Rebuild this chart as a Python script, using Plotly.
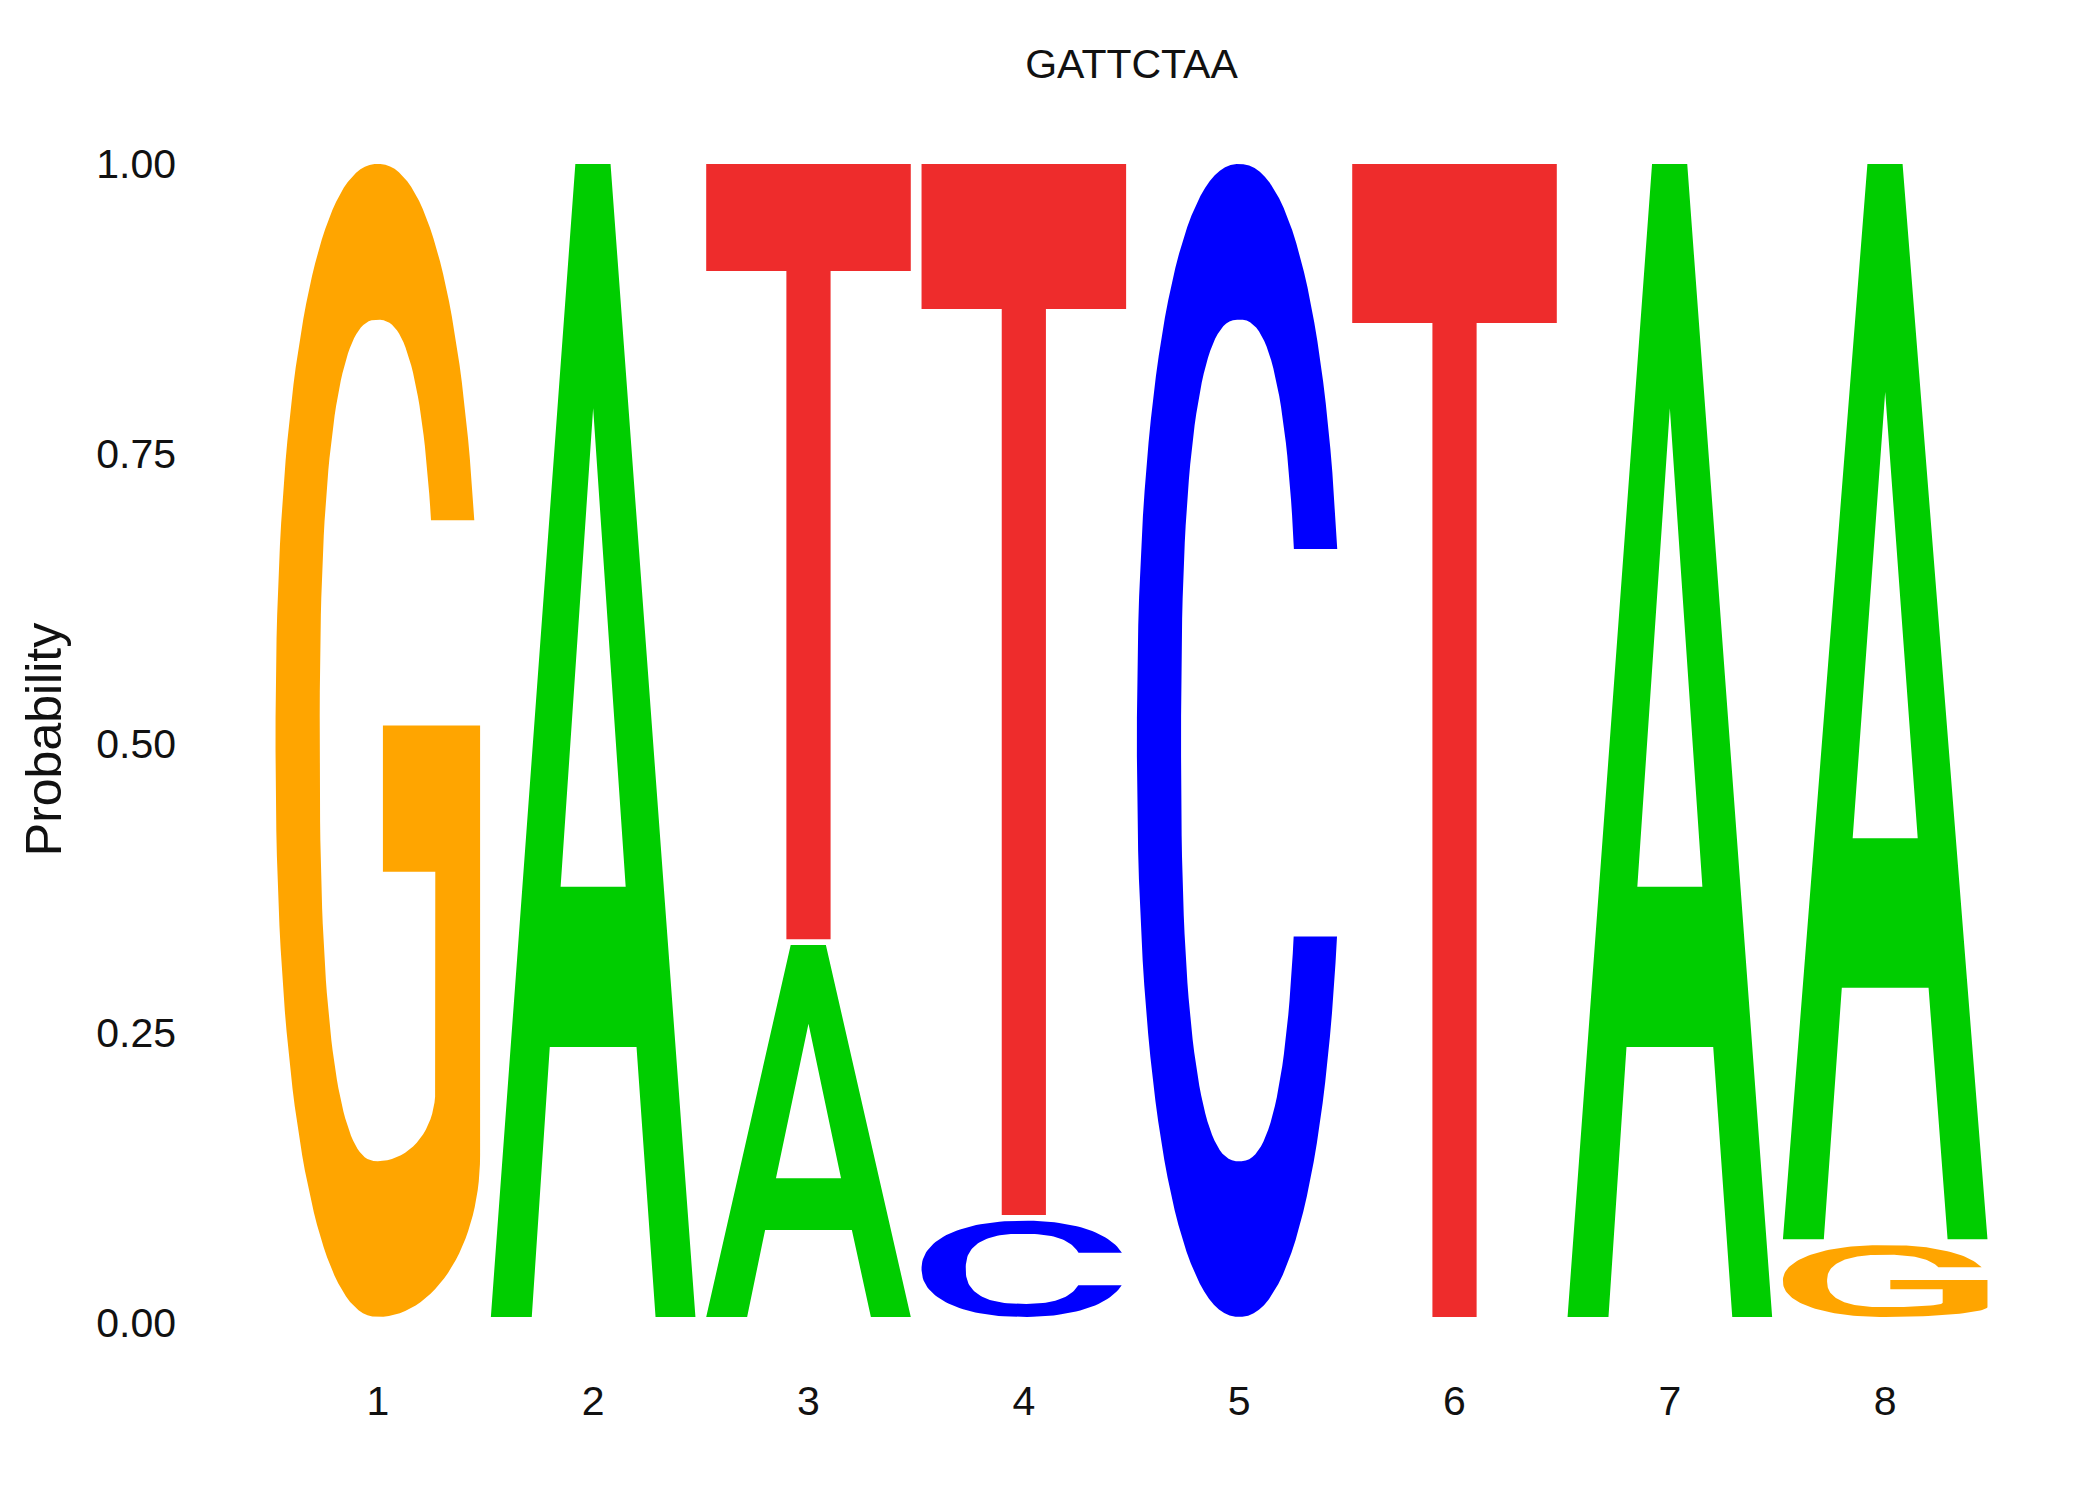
import numpy as np
import plotly.graph_objects as go

# 每個位置的鹼基機率 (sequence logo)
positions = [1, 2, 3, 4, 5, 6, 7, 8]
consensus = "GATTCTAA"
prob_A = [0.0, 1.0, 0.326, 0.0, 0.0, 0.0, 1.0, 0.933]
prob_C = [0.0, 0.0, 0.0, 0.088, 1.0, 0.0, 0.0, 0.0]
prob_G = [1.0, 0.0, 0.0, 0.0, 0.0, 0.0, 0.0, 0.067]
prob_T = [0.0, 0.0, 0.674, 0.912, 0.0, 1.0, 0.0, 0.0]
y_ticks = [0.0, 0.25, 0.5, 0.75, 1.0]

colors = {"A": "#00CD00", "C": "#0000FF", "G": "#FFA500", "T": "#EE2C2C"}
font_family = "Liberation Sans, Arial, sans-serif"

LETTER_W = 0.95
GAP = 0.005


# ---------- 字母輪廓 (單位方格內) ----------
def sup_pt(t, cx, cy, rx, ry, n):
    c, s = np.cos(t), np.sin(t)
    x = cx + rx * np.sign(c) * np.abs(c) ** (2 / n)
    y = cy + ry * np.sign(s) * np.abs(s) ** (2 / n)
    return x, y


def angle_at(yv, cy, ry, n):
    d = (yv - cy) / ry
    return np.arcsin(np.sign(d) * abs(d) ** (n / 2))


OUT = dict(cx=0.5, cy=0.5, rx=0.5, ry=0.5, n=2.2)
INN = dict(cx=0.5, cy=0.5, rx=0.284, ry=0.365, n=2.5)


def glyph_C():
    ta = angle_at(0.666, OUT["cy"], OUT["ry"], OUT["n"])
    tb = angle_at(0.33, OUT["cy"], OUT["ry"], OUT["n"])
    ia = angle_at(0.666, INN["cy"], INN["ry"], INN["n"])
    ib = angle_at(0.33, INN["cy"], INN["ry"], INN["n"])
    t_out = np.linspace(ta, 2 * np.pi + tb, 120)
    t_in = np.linspace(2 * np.pi + ib, ia, 120)
    xo, yo = sup_pt(t_out, **OUT)
    xi, yi = sup_pt(t_in, **INN)
    return np.concatenate([xo, xi, xo[:1]]), np.concatenate([yo, yi, yo[:1]])


def glyph_G():
    ta = angle_at(0.691, OUT["cy"], OUT["ry"], OUT["n"])
    ia = angle_at(0.691, INN["cy"], INN["ry"], INN["n"])
    xo, yo = sup_pt(np.linspace(ta, 1.5 * np.pi, 110), **OUT)
    phi = np.linspace(-np.pi / 2, 0, 30)
    xq, yq = 0.5 + 0.5 * np.cos(phi), 0.14 + 0.14 * np.sin(phi)
    bx = [1.0, 0.525, 0.525, 0.781, 0.781]
    by = [0.513, 0.513, 0.386, 0.386, 0.196]
    phi2 = np.linspace(0, -np.pi / 2, 20)
    xq2, yq2 = 0.5 + 0.281 * np.cos(phi2), 0.196 + 0.061 * np.sin(phi2)
    xi, yi = sup_pt(np.linspace(1.5 * np.pi, ia, 110), **INN)
    x = np.concatenate([xo, xq, bx, xq2, xi, xo[:1]])
    y = np.concatenate([yo, yq, by, yq2, yi, yo[:1]])
    return x, y


def glyph_A():
    x = [0.0, 0.2, 0.288, 0.5, 0.5, 0.341, 0.5, 0.659, 0.5, 0.5, 0.712, 0.805, 1.0, 0.585, 0.413, 0.0]
    y = [0.0, 0.0, 0.234, 0.234, 0.373, 0.373, 0.788, 0.373, 0.373, 0.234, 0.234, 0.0, 0.0, 1.0, 1.0, 0.0]
    return np.array(x), np.array(y)


def glyph_T():
    x = [0.0, 0.0, 0.392, 0.392, 0.608, 0.608, 1.0, 1.0, 0.0]
    y = [1.0, 0.862, 0.862, 0.0, 0.0, 0.862, 0.862, 1.0, 1.0]
    return np.array(x), np.array(y)


glyphs = {"A": glyph_A(), "C": glyph_C(), "G": glyph_G(), "T": glyph_T()}

# ---------- 堆疊字母 ----------
probs = {"A": prob_A, "C": prob_C, "G": prob_G, "T": prob_T}

fig = go.Figure()
for i, pos in enumerate(positions):
    stack = sorted([(probs[b][i], b) for b in probs if probs[b][i] > 0])
    y0 = 0.0
    for p, base in stack:
        gx, gy = glyphs[base]
        xs = pos - LETTER_W / 2 + LETTER_W * gx
        ys = y0 + GAP + (p - GAP) * gy
        fig.add_trace(go.Scatter(
            x=xs, y=ys, mode="lines", fill="toself",
            fillcolor=colors[base], line=dict(width=0, color=colors[base]),
            hoveron="fills", name=f"{base} @ {pos}: {p:.2f}",
            showlegend=False,
        ))
        y0 += p

fig.update_layout(
    width=2100, height=1500,
    paper_bgcolor="white", plot_bgcolor="white",
    margin=dict(l=176, r=29, t=98, b=135),
    font=dict(family=font_family, size=41, color="#111111"),
    title=dict(text=consensus, x=0.5, xref="paper", xanchor="center",
               y=1 - 56 / 1500, yref="container", yanchor="middle",
               font=dict(size=41, color="#111111")),
    xaxis=dict(range=[0.1, 8.9], tickvals=positions, ticktext=[str(p) for p in positions],
               showgrid=False, zeroline=False, showline=False, ticks=""),
    yaxis=dict(range=[-0.0434, 1.05], tickvals=y_ticks, ticktext=[f"{v:.2f}" for v in y_ticks],
               showgrid=False, zeroline=False, showline=False, ticks="",
               ticklabelstandoff=7,
               title=dict(text="Probability", font=dict(size=50), standoff=18)),
)

fig.write_html("out.html")
